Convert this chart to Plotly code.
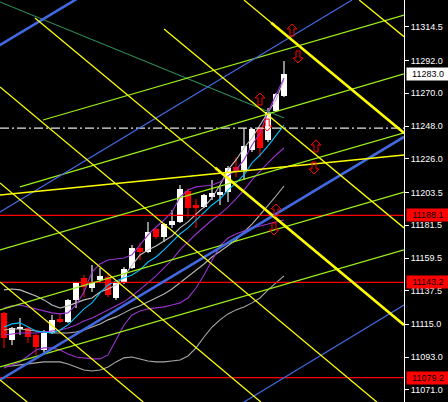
import plotly.graph_objects as go

# ---------------- data ----------------
bar_index = list(range(36))
open_ = [11122.6, 11104.5, 11111.9, 11112.6, 11107.9, 11097.8, 11109.2, 11118.6, 11116.6, 11131.4,
         11146.1, 11139.4, 11144.8, 11146.8, 11132.7, 11142.8, 11152.8, 11166.2, 11163.6, 11179.0,
         11173.6, 11181.7, 11183.7, 11204.5, 11195.1, 11193.7, 11200.5, 11201.8, 11203.8, 11220.6,
         11218.6, 11232.0, 11246.7, 11238.7, 11258.1, 11268.2]
high = [11123.3, 11113.2, 11119.3, 11113.2, 11108.6, 11111.2, 11121.3, 11122.6, 11132.0, 11143.4,
        11148.1, 11154.8, 11152.8, 11149.5, 11143.4, 11153.5, 11168.3, 11169.6, 11183.7, 11179.7,
        11183.0, 11191.7, 11208.5, 11205.8, 11199.1, 11202.5, 11211.9, 11207.2, 11221.2, 11227.3,
        11246.7, 11246.7, 11247.4, 11260.2, 11270.2, 11291.7]
low = [11099.2, 11101.2, 11107.9, 11102.5, 11094.5, 11095.8, 11108.6, 11115.9, 11115.9, 11126.0,
       11133.4, 11136.7, 11142.8, 11133.4, 11131.4, 11142.1, 11152.2, 11158.2, 11162.9, 11172.3,
       11170.3, 11179.7, 11183.0, 11186.4, 11179.7, 11193.1, 11198.4, 11195.1, 11197.1, 11213.9,
       11211.9, 11230.6, 11227.3, 11237.3, 11257.5, 11267.5]
close = [11105.9, 11112.6, 11112.6, 11106.5, 11099.8, 11109.2, 11118.0, 11116.6, 11131.4, 11142.8,
         11140.1, 11143.4, 11147.5, 11134.7, 11142.8, 11152.2, 11166.2, 11163.6, 11177.0, 11173.6,
         11182.3, 11184.3, 11205.8, 11193.1, 11193.1, 11201.8, 11203.1, 11203.8, 11219.9, 11217.2,
         11234.7, 11246.1, 11233.3, 11257.5, 11269.5, 11283.0]

ma_cyan = [11113.2, 11115.3, 11116.0, 11113.2, 11110.5, 11109.9, 11109.2, 11111.2, 11114.6, 11120.0,
           11125.4, 11129.4, 11136.1, 11141.4, 11144.1, 11146.1, 11148.1, 11151.5, 11156.8, 11160.2,
           11164.9, 11170.3, 11175.6, 11179.7, 11185.0, 11190.4, 11195.1, 11199.1, 11205.1, 11209.9,
           11215.2, 11223.3, 11228.6, 11234.7, 11241.4, 11248.7]
ma_purple_mid = [11107.9, 11108.6, 11109.2, 11109.2, 11109.2, 11109.9, 11110.5, 11111.2, 11112.6, 11114.6,
                 11117.3, 11119.3, 11122.0, 11124.7, 11127.4, 11130.1, 11134.0, 11138.1, 11142.8, 11147.5,
                 11152.8, 11158.2, 11164.9, 11170.3, 11175.6, 11180.3, 11185.0, 11189.0, 11193.7, 11199.1,
                 11205.1, 11211.9, 11217.9, 11223.3, 11228.6, 11233.3]
ma_purple_upper = [11126.0, 11127.4, 11128.0, 11126.7, 11125.4, 11124.0, 11122.7, 11122.0, 11122.7, 11128.0,
                   11136.7, 11150.1, 11155.5, 11158.2, 11158.9, 11159.5, 11161.6, 11168.3, 11175.0, 11180.3,
                   11185.0, 11190.4, 11200.4, 11205.1, 11207.2, 11207.8, 11208.5, 11210.5, 11214.5, 11218.6,
                   11225.3, 11235.3, 11243.4, 11257.5, 11268.9, 11280.3]
ma_purple_lower = [11085.7, 11087.8, 11089.8, 11093.8, 11097.8, 11099.2, 11099.2, 11097.8, 11095.1, 11093.1,
                   11092.5, 11091.8, 11091.8, 11094.5, 11104.5, 11114.6, 11121.3, 11124.0, 11125.4, 11126.0,
                   11126.7, 11128.0, 11129.4, 11132.7, 11139.4, 11148.1, 11158.2, 11167.6, 11172.9, 11175.6,
                   11177.6, 11179.7, 11181.0, 11182.3, 11183.7, 11185.0]
ma_gray_upper = [11138.1, 11138.7, 11138.1, 11136.1, 11134.0, 11131.4, 11128.0, 11126.0, 11127.4, 11129.4,
                 11131.4, 11132.7, 11136.7, 11138.7, 11141.4, 11147.5, 11154.8, 11161.5, 11164.9, 11167.6,
                 11170.9, 11174.3, 11179.7, 11183.7, 11189.0, 11193.7, 11199.8, 11208.5, 11218.6, 11225.3,
                 11233.3, 11240.0, 11248.7, 11256.8, 11265.5, 11278.9]
ma_gray_mid = [11111.2, 11111.9, 11111.9, 11111.2, 11110.5, 11109.9, 11109.2, 11109.2, 11109.2, 11109.9,
               11111.2, 11113.2, 11115.3, 11118.0, 11120.0, 11122.7, 11125.4, 11127.4, 11130.1, 11132.7,
               11135.4, 11138.7, 11142.8, 11146.8, 11151.5, 11155.5, 11160.2, 11164.2, 11167.6, 11171.6,
               11177.0, 11182.3, 11188.4, 11194.4, 11201.1, 11207.8]
ma_gray_lower = [11087.1, 11087.1, 11087.8, 11088.4, 11089.1, 11089.8, 11089.8, 11089.8, 11088.4, 11086.4,
                 11084.4, 11083.7, 11084.4, 11086.4, 11089.8, 11092.5, 11093.1, 11091.8, 11090.4, 11089.8,
                 11089.8, 11090.4, 11091.1, 11093.8, 11099.2, 11106.5, 11113.2, 11118.0, 11122.0, 11124.7,
                 11126.7, 11129.4, 11132.7, 11138.1, 11142.8, 11147.5]

# trend lines as (bar0, price0, bar1, price1)
blue_thick_lines = [(-1.0, 11300.8, 10.0, 11336.2), (-0.5, 11077.7, 50.0, 11240.7)]
blue_thin_lines = [(-0.5, 11190.4, 43.5, 11332.6), (30.0, 11062.9, 50.0, 11128.0)]
yellow_thin_lines = [(-0.5, 11274.2, 46.6, 11062.9), (3.875, 11320.5, 50.0, 11114.6),
                     (20.0, 11313.1, 50.0, 11179.7), (30.0, 11332.6, 50.0, 11243.4),
                     (44.4, 11332.6, 50.0, 11308.0), (-0.5, 11209.8, 32.1, 11062.9),
                     (-0.5, 11143.4, 17.4, 11062.9), (-0.5, 11077.7, 2.9, 11062.9)]
yellow_thick_lines = [(26.4, 11220.0, 50.0, 11114.6), (33.4, 11317.4, 50.0, 11243.4)]
yellow_flat_lines = [(-0.5, 11201.8, 50.0, 11228.6)]
lime_lines = [(4.875, 11252.1, 50.0, 11322.5), (2.0, 11207.2, 50.0, 11283.0),
              (-0.5, 11164.9, 50.0, 11243.4), (-0.5, 11124.7, 50.0, 11203.8),
              (-0.5, 11086.4, 50.0, 11164.9)]
dark_green_lines = [(-0.5, 11331.3, 35.0, 11253.4)]

red_levels = [11188.1, 11143.2, 11079.2]
dash_level = 11246.7
current_price = 11283.0

arrow_up_x = [36.0, 32.0, 39.0, 34.0]
arrow_up_p = [11312.5, 11266.2, 11234.7, 11191.7]
arrow_dn_x = [36.75, 32.9, 38.75, 33.75]
arrow_dn_p = [11294.4, 11248.7, 11219.9, 11179.0]

tick_vals = [11314.5, 11292.0, 11270.0, 11248.0, 11226.0, 11203.5, 11181.5,
             11159.5, 11137.5, 11115.0, 11093.0, 11071.0]

X_RANGE = [-0.5, 50.0]
Y_RANGE = [11062.9, 11332.6]

# ---------------- figure ----------------
fig = go.Figure()

# candle bodies
base = [min(o, c) for o, c in zip(open_, close)]
height = [max(abs(c - o), 0.7) for o, c in zip(open_, close)]
colors = ['#FFFFFF' if c >= o else '#FF0000' for o, c in zip(open_, close)]
fig.add_trace(go.Bar(x=bar_index, y=height, base=base, width=0.64,
                     marker=dict(color=colors, line=dict(width=0)),
                     hoverinfo='skip', showlegend=False))

# wicks
for col, cond in [('#FFFFFF', lambda o, c: c >= o), ('#FF0000', lambda o, c: c < o)]:
    wx, wy = [], []
    for i, o, h, l, c in zip(bar_index, open_, high, low, close):
        if cond(o, c):
            wx += [i, i, None]
            wy += [l, h, None]
    fig.add_trace(go.Scatter(x=wx, y=wy, mode='lines', line=dict(color=col, width=1.1),
                             hoverinfo='skip', showlegend=False))

# indicator lines
for series, col in [(ma_gray_lower, '#A8A8A8'), (ma_gray_mid, '#B4B4B4'), (ma_gray_upper, '#C0C0C0'),
                    (ma_purple_lower, '#9932CC'), (ma_purple_mid, '#9932CC'),
                    (ma_purple_upper, '#9932CC'), (ma_cyan, '#00BFFF')]:
    fig.add_trace(go.Scatter(x=bar_index, y=series, mode='lines',
                             line=dict(color=col, width=1.1), hoverinfo='skip', showlegend=False))


def add_lines(lines, color, width, dash=None):
    for x0, p0, x1, p1 in lines:
        fig.add_trace(go.Scatter(x=[x0, x1], y=[p0, p1], mode='lines',
                                 line=dict(color=color, width=width, dash=dash),
                                 hoverinfo='skip', showlegend=False))


# horizontal levels
for lv in red_levels:
    add_lines([(X_RANGE[0], lv, X_RANGE[1], lv)], '#FF0000', 1.3)
add_lines([(X_RANGE[0], dash_level, X_RANGE[1], dash_level)], '#E6E6E6', 1.2, dash='9px,3px,2px,3px')

add_lines(dark_green_lines, '#2E8B57', 1.2)
add_lines(lime_lines, '#9EF01A', 1.25)
add_lines(blue_thin_lines, '#4169E1', 1.2)
add_lines(blue_thick_lines, '#4169E1', 2.6)
add_lines(yellow_thin_lines, '#FFFF00', 1.25)
add_lines(yellow_flat_lines, '#FFFF00', 1.6)
add_lines(yellow_thick_lines, '#FFFF00', 2.6)

# arrows (hollow block arrows, pixel sized)
up_path = 'M0,6 L5,1 L2,1 L2,-6 L-2,-6 L-2,1 L-5,1 Z'
dn_path = 'M0,-6 L5,-1 L2,-1 L2,6 L-2,6 L-2,-1 L-5,-1 Z'
for xs, ps, path in [(arrow_up_x, arrow_up_p, up_path), (arrow_dn_x, arrow_dn_p, dn_path)]:
    for xa, pa in zip(xs, ps):
        fig.add_shape(type='path', xref='x', yref='y', xsizemode='pixel', ysizemode='pixel',
                      xanchor=xa, yanchor=pa, path=path,
                      line=dict(color='#FF0000', width=1), fillcolor='rgba(0,0,0,0)', layer='above')

# price labels on the scale
for val, bg in [(current_price, '#FFFFFF')] + [(lv, '#FF0000') for lv in red_levels]:
    fig.add_annotation(xref='paper', x=1, xanchor='left', xshift=2, yref='y', y=val,
                       yanchor='middle', text=f'{val:.1f}', showarrow=False, bgcolor=bg,
                       font=dict(color='#000000', size=9, family='Liberation Sans, Arial'),
                       borderpad=1, width=40, height=10, align='center')

fig.update_layout(
    width=448, height=402,
    margin=dict(l=0, r=44, t=0, b=0),
    paper_bgcolor='#000000', plot_bgcolor='#000000',
    showlegend=False, bargap=0,
    xaxis=dict(range=X_RANGE, visible=False, showgrid=False, zeroline=False, fixedrange=True),
    yaxis=dict(range=Y_RANGE, side='right', showgrid=False, zeroline=False,
               tickvals=tick_vals, ticktext=[f'{v:.1f}' for v in tick_vals],
               ticks='outside', ticklen=4, tickcolor='#FFFFFF', tickwidth=1,
               showline=True, linecolor='#FFFFFF', linewidth=1,
               tickfont=dict(color='#FFFFFF', size=9, family='Liberation Sans, Arial'),
               fixedrange=True),
)

fig.write_html('out.html', config={'displayModeBar': False},
               post_script="document.body.style.margin='0';document.body.style.padding='0';"
                           "document.body.style.background='#000';")
